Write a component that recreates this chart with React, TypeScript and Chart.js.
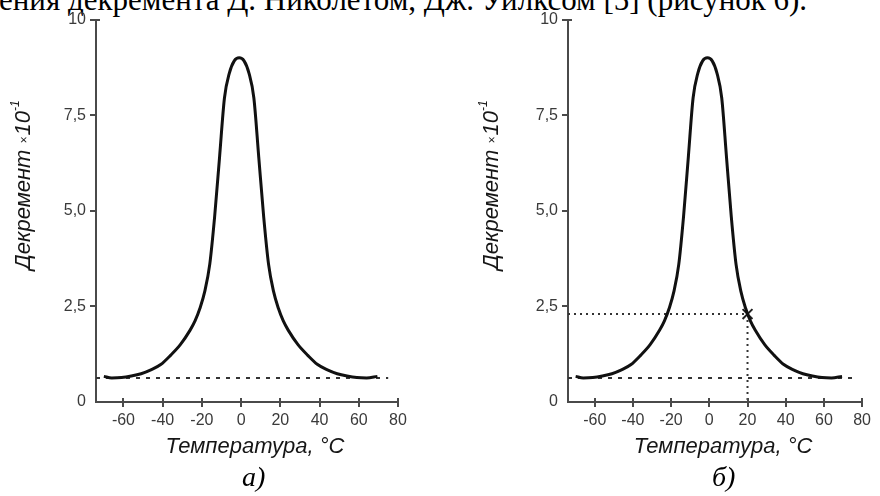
import React, { useEffect, useRef } from "react";
import { Chart, registerables } from "chart.js";

Chart.register(...registerables);

// Damping decrement curve, read point by point (temperature °C -> decrement ×10^-1)
const TEMPS = [
  -70, -66, -61, -56, -51, -46, -41, -36, -31, -26, -23.5, -21, -18.5, -16, -13.5, -11, -8.5, -6, -3.5, -1,
  1.5, 4, 6.5, 9, 11.5, 14, 16.5, 19, 21.5, 24, 29, 34, 39, 44, 49, 54, 59, 64, 69.5,
];
const DECREMENT = [
  0.67, 0.63, 0.64, 0.68, 0.74, 0.84, 0.98, 1.22, 1.5, 1.88, 2.12, 2.45, 2.9, 3.6, 4.85, 6.4, 7.95, 8.6, 8.92, 9.0,
  8.92, 8.6, 7.95, 6.4, 4.85, 3.6, 2.9, 2.45, 2.12, 1.88, 1.5, 1.22, 0.98, 0.84, 0.74, 0.68, 0.64, 0.63, 0.67,
];

// Asymptotic minimum level and its extent
const BASE_LEVEL = 0.63;
const BASE_END_T = 75;

// Working point marked on panel б)
const MARK_T = 20;
const MARK_D = 2.3;

// Axis ranges and tick values
const X_MIN = -74;
const X_MAX = 80;
const X_TICKS = [-60, -40, -20, 0, 20, 40, 60, 80];
const Y_TICKS = [0, 2.5, 5, 7.5, 10];
const Y_TICK_LABELS = ["0", "2,5", "5,0", "7,5", "10"];

const X_TITLE = "Температура, °C";
const Y_TITLE_MAIN = "Декремент ";
const Y_TITLE_TIMES = "×";
const Y_TITLE_BASE = "10";
const Y_TITLE_EXP = "-1";

const HEADER = "ения декремента Д. Николетом, Дж. Уилксом [5] (рисунок 6).";

const SANS = "'Liberation Sans', Arial, sans-serif";
const SERIF = "'Liberation Serif', 'Times New Roman', serif";
const AXIS_COLOR = "#4a4a4a";

type PanelProps = {
  left: number;
  yAxisWidth: number;
  rightPad: number;
  yTitleX: number;
  xTitleShift: number;
  withMark: boolean;
  caption: string;
  captionX: number;
};

const decorations = {
  id: "decorations",
  afterDraw(chart: any) {
    const opts = chart.options.plugins.decorations;
    const { ctx, chartArea } = chart;
    const xs = chart.scales.x;
    const ys = chart.scales.y;
    ctx.save();
    ctx.strokeStyle = AXIS_COLOR;
    ctx.lineWidth = 2;
    // y ticks, pointing outward
    Y_TICKS.forEach((v) => {
      if (v === 0) return;
      const y = Math.round(ys.getPixelForValue(v));
      ctx.beginPath();
      ctx.moveTo(chartArea.left - 6, y);
      ctx.lineTo(chartArea.left + (v === 10 ? 4 : 0), y);
      ctx.stroke();
    });
    // x ticks, crossing the axis
    X_TICKS.forEach((v) => {
      const x = Math.round(xs.getPixelForValue(v));
      ctx.beginPath();
      ctx.moveTo(x, chartArea.bottom - 4);
      ctx.lineTo(x, chartArea.bottom + 5);
      ctx.stroke();
    });

    ctx.fillStyle = "#161616";
    // x title
    ctx.font = `italic 22px ${SANS}`;
    ctx.textAlign = "center";
    ctx.textBaseline = "alphabetic";
    ctx.fillText(X_TITLE, (chartArea.left + chartArea.right) / 2 + opts.xTitleShift, 453);

    // y title with small multiplication sign and superscript exponent
    const big = `italic 22px ${SANS}`;
    const small = `italic 12px ${SANS}`;
    ctx.font = big;
    const w1 = ctx.measureText(Y_TITLE_MAIN).width;
    const w3 = ctx.measureText(Y_TITLE_BASE).width;
    ctx.font = small;
    const w2 = ctx.measureText(Y_TITLE_TIMES).width + 1;
    const w4 = ctx.measureText(Y_TITLE_EXP).width;
    const total = w1 + w2 + w3 + w4;
    ctx.translate(opts.yTitleX, 185);
    ctx.rotate(-Math.PI / 2);
    ctx.textAlign = "left";
    let cx = -total / 2;
    const by = 8;
    ctx.font = big;
    ctx.fillText(Y_TITLE_MAIN, cx, by);
    cx += w1;
    ctx.font = small;
    ctx.fillText(Y_TITLE_TIMES, cx, by - 2);
    cx += w2;
    ctx.font = big;
    ctx.fillText(Y_TITLE_BASE, cx, by);
    cx += w3;
    ctx.font = small;
    ctx.fillText(Y_TITLE_EXP, cx, by - 11);
    ctx.restore();
  },
};

function Panel(p: PanelProps) {
  const ref = useRef<HTMLCanvasElement | null>(null);

  useEffect(() => {
    if (!ref.current) return;
    const curve = TEMPS.map((t, i) => ({ x: t, y: DECREMENT[i] }));
    const datasets: any[] = [
      {
        data: curve,
        borderColor: "#111",
        borderWidth: 3,
        pointRadius: 0,
        cubicInterpolationMode: "monotone",
        order: 0,
      },
      {
        data: [
          { x: X_MIN, y: BASE_LEVEL },
          { x: BASE_END_T, y: BASE_LEVEL },
        ],
        borderColor: "#333",
        borderWidth: 2,
        borderDash: [4, 6],
        pointRadius: 0,
        order: 1,
      },
    ];
    if (p.withMark) {
      datasets.push(
        {
          data: [
            { x: X_MIN, y: MARK_D },
            { x: MARK_T, y: MARK_D },
          ],
          borderColor: "#333",
          borderWidth: 2,
          borderDash: [2, 4],
          pointRadius: 0,
          order: 1,
        },
        {
          data: [
            { x: MARK_T, y: MARK_D },
            { x: MARK_T, y: 0 },
          ],
          borderColor: "#333",
          borderWidth: 2,
          borderDash: [2, 4],
          pointRadius: 0,
          order: 1,
        },
        {
          data: [{ x: MARK_T, y: MARK_D }],
          showLine: false,
          pointStyle: "crossRot",
          pointRadius: 7,
          pointBorderWidth: 2,
          pointBorderColor: "#222",
          order: 0,
        }
      );
    }

    const chart = new Chart(ref.current, {
      type: "line",
      data: { datasets },
      plugins: [decorations],
      options: {
        animation: false,
        responsive: false,
        maintainAspectRatio: false,
        layout: { padding: { left: 0, top: 18, right: p.rightPad, bottom: 0 } },
        plugins: {
          legend: { display: false },
          tooltip: { enabled: false },
          decorations: { yTitleX: p.yTitleX, xTitleShift: p.xTitleShift },
        } as any,
        scales: {
          x: {
            type: "linear",
            min: X_MIN,
            max: X_MAX,
            afterBuildTicks: (s: any) => {
              s.ticks = X_TICKS.map((v) => ({ value: v }));
            },
            afterFit: (s: any) => {
              s.height = 94;
            },
            border: { display: true, color: AXIS_COLOR, width: 2 },
            grid: { display: true, drawOnChartArea: false, drawTicks: false },
            ticks: {
              padding: 9,
              color: "#3a3a3a",
              font: { family: SANS, size: 16 },
              callback: (v: any) => String(v),
            },
          },
          y: {
            min: 0,
            max: 10,
            afterBuildTicks: (s: any) => {
              s.ticks = Y_TICKS.map((v) => ({ value: v }));
            },
            afterFit: (s: any) => {
              s.width = p.yAxisWidth;
            },
            border: { display: true, color: AXIS_COLOR, width: 2 },
            grid: { display: true, drawOnChartArea: false, drawTicks: false },
            ticks: {
              padding: 10,
              color: "#3a3a3a",
              font: { family: SANS, size: 16 },
              callback: (v: any) => {
                const i = Y_TICKS.indexOf(Number(v));
                return i >= 0 ? Y_TICK_LABELS[i] : "";
              },
            },
          },
        },
      } as any,
    });
    return () => chart.destroy();
  }, []);

  return (
    <div style={{ position: "absolute", left: p.left, top: 0, width: 440, height: 496 }}>
      <canvas ref={ref} width={440} height={496} style={{ display: "block", width: 440, height: 496 }} />
      <div
        style={{
          position: "absolute",
          left: p.captionX,
          top: 462,
          font: `italic 28px ${SERIF}`,
          color: "#000",
          lineHeight: "30px",
        }}
      >
        {p.caption}
      </div>
    </div>
  );
}

export default function App() {
  return (
    <div
      style={{
        position: "fixed",
        left: 0,
        top: 0,
        width: 880,
        height: 496,
        overflow: "hidden",
        background: "#fff",
      }}
    >
      <div
        style={{
          position: "absolute",
          left: -1,
          top: -16,
          whiteSpace: "nowrap",
          font: `31px ${SERIF}`,
          lineHeight: "32px",
          color: "#000",
        }}
      >
        {HEADER}
      </div>
      <Panel left={0} yAxisWidth={96} rightPad={42} yTitleX={22} xTitleShift={8} withMark={false} caption="а)" captionX={242} />
      <Panel left={440} yAxisWidth={128} rightPad={10} yTitleX={50} xTitleShift={8} withMark={true} caption="б)" captionX={272} />
    </div>
  );
}
